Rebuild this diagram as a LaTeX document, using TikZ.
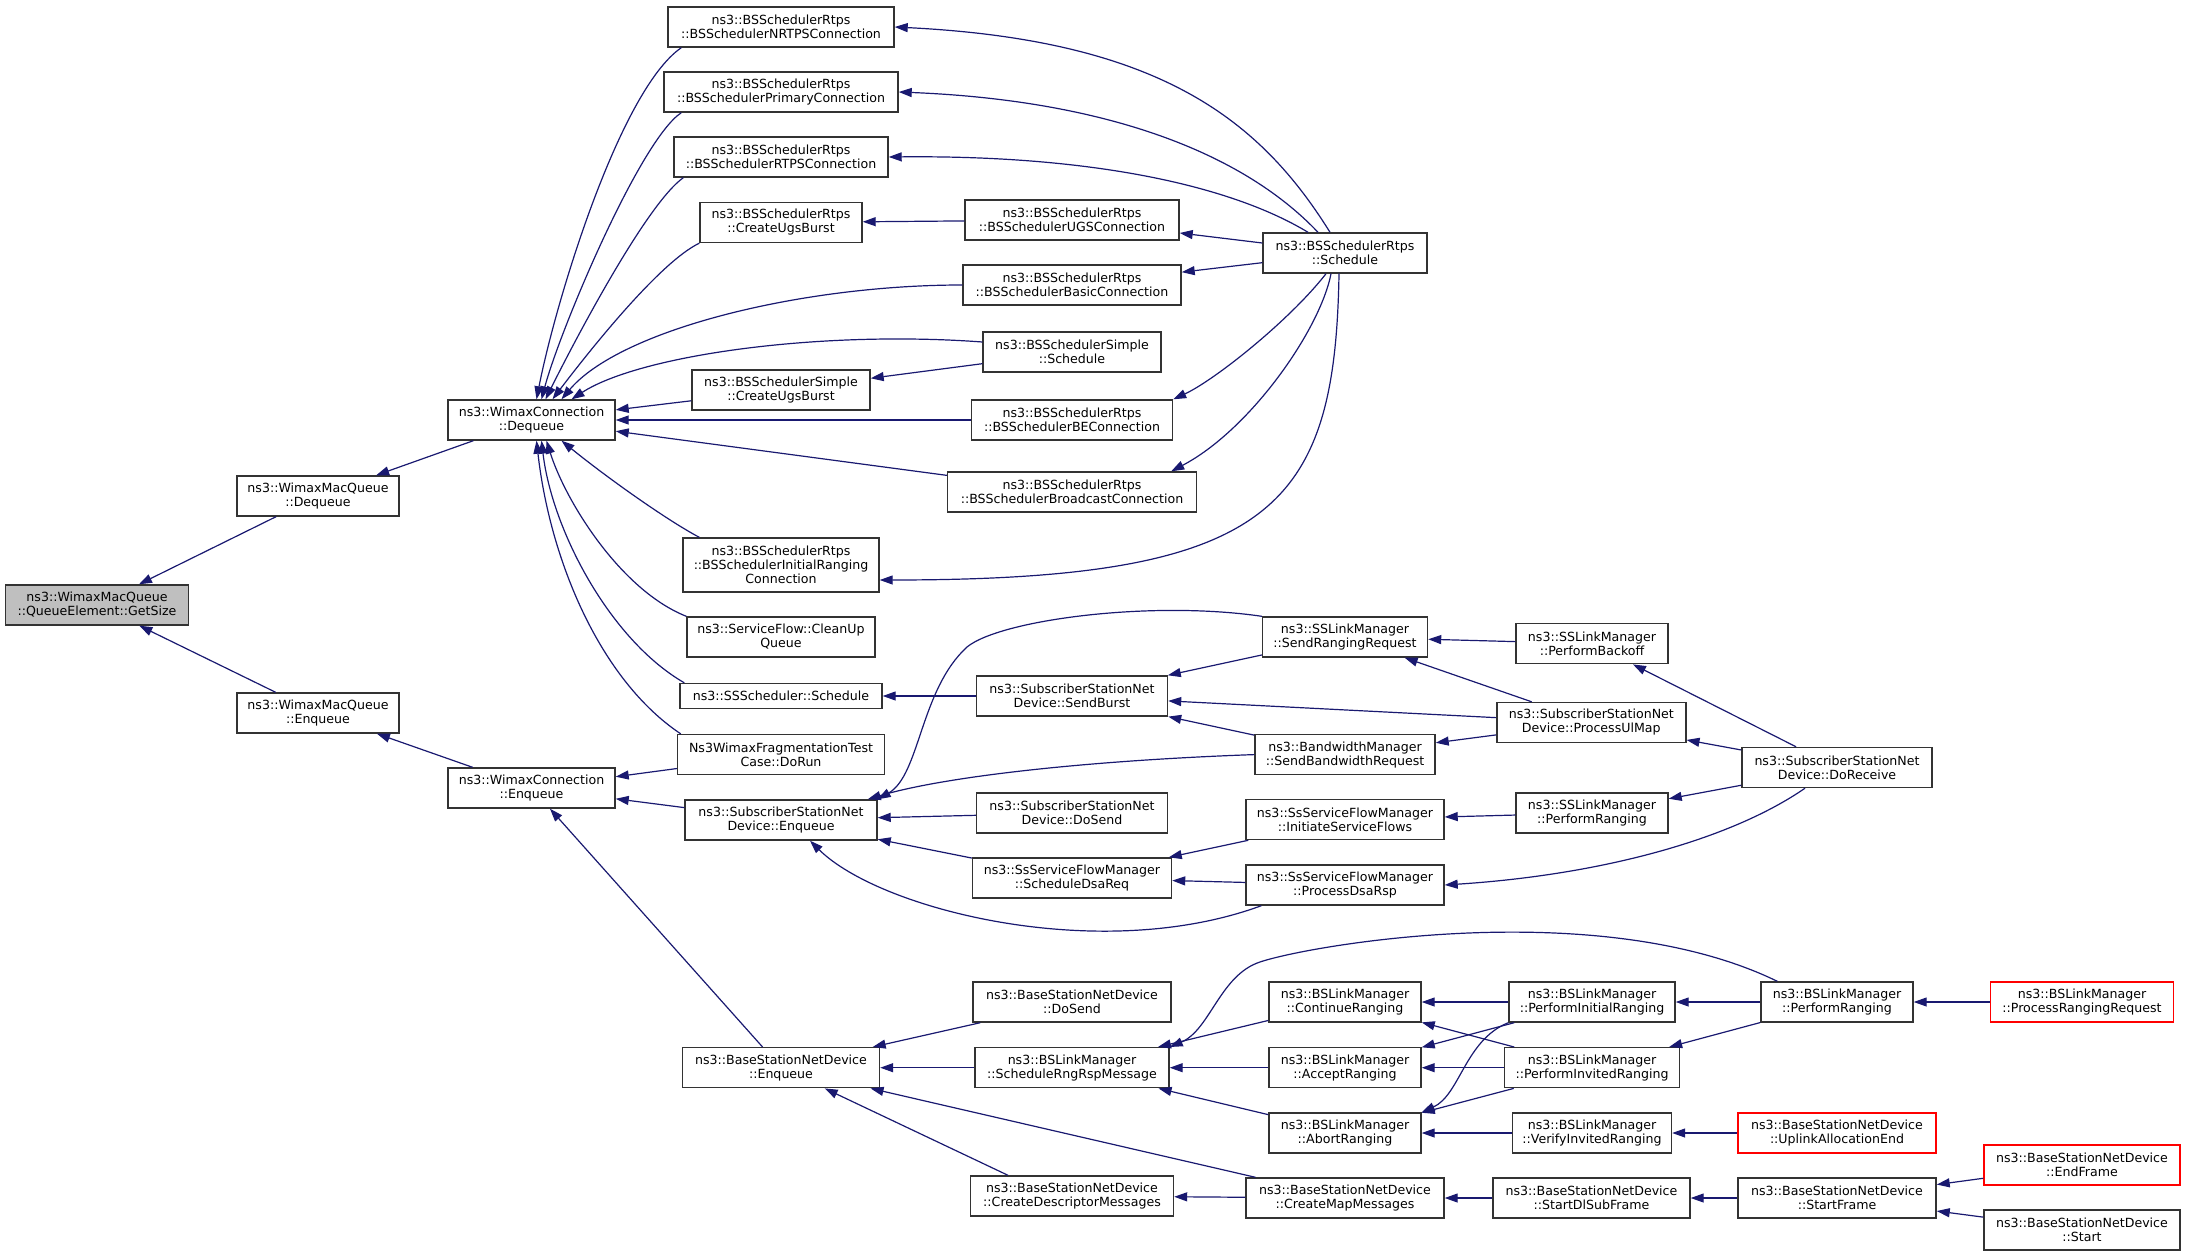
\documentclass[tikz,border=0pt]{standalone}
\usepackage{fontspec}
\usepackage{tikz}
\usetikzlibrary{arrows.meta}
\newfontfamily\dotfont{DejaVu Sans}
\definecolor{edgeblue}{RGB}{25,25,112}

\begin{document}
\begin{tikzpicture}[x=0.5pt, y=-0.5pt,
    fn/.style={draw=black!80, line width=0.7pt, fill=white, inner sep=0pt, align=center,
        minimum height=20pt, font=\dotfont\fontsize{6.3}{7}\selectfont},
    calls/.style={draw=edgeblue, line width=0.6pt, {Triangle[length=6.5pt, width=4.5pt, fill=edgeblue]}-}]
        \useasboundingbox (0,0) rectangle (2187,1256);

        \node[fn, fill=black!25, minimum width=91.5pt] (getsize) at (97,605) {ns3::WimaxMacQueue\\::QueueElement::GetSize};
        \node[fn, minimum width=81pt] (wmqdeq) at (318,496) {ns3::WimaxMacQueue\\::Dequeue};
        \node[fn, minimum width=81pt] (wmqenq) at (318,713) {ns3::WimaxMacQueue\\::Enqueue};
        \node[fn, minimum width=83.5pt] (wcdeq) at (531.5,420) {ns3::WimaxConnection\\::Dequeue};
        \node[fn, minimum width=83.5pt] (wcenq) at (531.5,788) {ns3::WimaxConnection\\::Enqueue};

        \node[fn, minimum width=113pt] (nrtps) at (781,27) {ns3::BSSchedulerRtps\\::BSSchedulerNRTPSConnection};
        \node[fn, minimum width=117pt] (primary) at (781,92) {ns3::BSSchedulerRtps\\::BSSchedulerPrimaryConnection};
        \node[fn, minimum width=107pt] (rtps) at (781,157) {ns3::BSSchedulerRtps\\::BSSchedulerRTPSConnection};
        \node[fn, minimum width=81pt] (rtpsugs) at (781,222.5) {ns3::BSSchedulerRtps\\::CreateUgsBurst};
        \node[fn, minimum width=89pt] (simpleugs) at (781,390) {ns3::BSSchedulerSimple\\::CreateUgsBurst};
        \node[fn, minimum width=98pt, minimum height=27pt] (initrng) at (781,565) {ns3::BSSchedulerRtps\\::BSSchedulerInitialRanging\\Connection};
        \node[fn, minimum width=94pt] (cleanup) at (781,637) {ns3::ServiceFlow::CleanUp\\Queue};
        \node[fn, minimum width=101pt, minimum height=12.5pt] (ssched) at (781,696) {ns3::SSScheduler::Schedule};
        \node[fn, minimum width=103.5pt] (fragtest) at (781,754.6) {Ns3WimaxFragmentationTest\\Case::DoRun};
        \node[fn, minimum width=96pt] (ssenq) at (781,820) {ns3::SubscriberStationNet\\Device::Enqueue};
        \node[fn, minimum width=98.5pt] (bsenq) at (781,1067.7) {ns3::BaseStationNetDevice\\::Enqueue};

        \node[fn, minimum width=107pt] (ugsconn) at (1072,220) {ns3::BSSchedulerRtps\\::BSSchedulerUGSConnection};
        \node[fn, minimum width=109pt] (basicconn) at (1072,285) {ns3::BSSchedulerRtps\\::BSSchedulerBasicConnection};
        \node[fn, minimum width=89pt] (simplesched) at (1072,352) {ns3::BSSchedulerSimple\\::Schedule};
        \node[fn, minimum width=100.5pt] (beconn) at (1072,420) {ns3::BSSchedulerRtps\\::BSSchedulerBEConnection};
        \node[fn, minimum width=124.5pt] (bcastconn) at (1072,492) {ns3::BSSchedulerRtps\\::BSSchedulerBroadcastConnection};
        \node[fn, minimum width=95.5pt] (sendburst) at (1072,696) {ns3::SubscriberStationNet\\Device::SendBurst};
        \node[fn, minimum width=95.5pt] (ssdosend) at (1072,813) {ns3::SubscriberStationNet\\Device::DoSend};
        \node[fn, minimum width=99.5pt] (dsareq) at (1072,878) {ns3::SsServiceFlowManager\\::ScheduleDsaReq};
        \node[fn, minimum width=99pt] (bsdosend) at (1072,1002) {ns3::BaseStationNetDevice\\::DoSend};
        \node[fn, minimum width=97pt] (rngrsp) at (1072,1067.7) {ns3::BSLinkManager\\::ScheduleRngRspMessage};
        \node[fn, minimum width=101.5pt] (descmsg) at (1072,1196) {ns3::BaseStationNetDevice\\::CreateDescriptorMessages};

        \node[fn, minimum width=82pt] (rtpssched) at (1345,253) {ns3::BSSchedulerRtps\\::Schedule};
        \node[fn, minimum width=82.5pt] (sendrng) at (1345,637) {ns3::SSLinkManager\\::SendRangingRequest};
        \node[fn, minimum width=90pt] (bwreq) at (1345,754.6) {ns3::BandwidthManager\\::SendBandwidthRequest};
        \node[fn, minimum width=99pt] (initflows) at (1345,819.6) {ns3::SsServiceFlowManager\\::InitiateServiceFlows};
        \node[fn, minimum width=99pt] (dsarsp) at (1345,885) {ns3::SsServiceFlowManager\\::ProcessDsaRsp};
        \node[fn, minimum width=76pt] (contrng) at (1345,1002) {ns3::BSLinkManager\\::ContinueRanging};
        \node[fn, minimum width=76pt] (acceptrng) at (1345,1067.7) {ns3::BSLinkManager\\::AcceptRanging};
        \node[fn, minimum width=76pt] (abortrng) at (1345,1133) {ns3::BSLinkManager\\::AbortRanging};
        \node[fn, minimum width=99pt] (mapmsg) at (1345,1198) {ns3::BaseStationNetDevice\\::CreateMapMessages};

        \node[fn, minimum width=76pt] (backoff) at (1592,643.7) {ns3::SSLinkManager\\::PerformBackoff};
        \node[fn, minimum width=94.5pt] (ulmap) at (1591.3,722.5) {ns3::SubscriberStationNet\\Device::ProcessUlMap};
        \node[fn, minimum width=76pt] (ssperfrng) at (1592,813) {ns3::SSLinkManager\\::PerformRanging};
        \node[fn, minimum width=83pt] (initialrng) at (1592,1002) {ns3::BSLinkManager\\::PerformInitialRanging};
        \node[fn, minimum width=87.5pt] (invitedrng) at (1592,1067.7) {ns3::BSLinkManager\\::PerformInvitedRanging};
        \node[fn, minimum width=79.5pt] (verifyrng) at (1592,1133) {ns3::BSLinkManager\\::VerifyInvitedRanging};
        \node[fn, minimum width=98.5pt] (dlsub) at (1591.5,1198) {ns3::BaseStationNetDevice\\::StartDlSubFrame};

        \node[fn, minimum width=95pt] (doreceive) at (1837,767.5) {ns3::SubscriberStationNet\\Device::DoReceive};
        \node[fn, minimum width=76pt] (bsperfrng) at (1837,1002) {ns3::BSLinkManager\\::PerformRanging};
        \node[fn, draw=red, minimum width=99pt] (ulallocend) at (1837,1133) {ns3::BaseStationNetDevice\\::UplinkAllocationEnd};
        \node[fn, minimum width=99pt] (startframe) at (1837,1198) {ns3::BaseStationNetDevice\\::StartFrame};

        \node[fn, draw=red, minimum width=91.5pt] (procrngreq) at (2082,1002) {ns3::BSLinkManager\\::ProcessRangingRequest};
        \node[fn, draw=red, minimum width=98pt] (endframe) at (2082,1165) {ns3::BaseStationNetDevice\\::EndFrame};
        \node[fn, minimum width=98pt] (start) at (2082,1230) {ns3::BaseStationNetDevice\\::Start};

        \draw[calls] (getsize) -- (wmqdeq);
        \draw[calls] (getsize) -- (wmqenq);
        \draw[calls] (wmqdeq) -- (wcdeq);
        \draw[calls] (wmqenq) -- (wcenq);

        \draw[calls] ([xshift=2.5pt]wcdeq.north) .. controls (556,300) and (620,90) .. ([xshift=7pt]nrtps.south west);
        \draw[calls] ([xshift=5pt]wcdeq.north) .. controls (560,330) and (640,140) .. ([xshift=9pt]primary.south west);
        \draw[calls] ([xshift=7pt]wcdeq.north) .. controls (570,350) and (645,205) .. ([xshift=5pt]rtps.south west);
        \draw[calls] ([xshift=10.5pt]wcdeq.north) .. controls (590,350) and (660,262) .. (rtpsugs.south west);
        \draw[calls] ([xshift=15pt]wcdeq.north) .. controls (620,330) and (800,285) .. (basicconn.west);
        \draw[calls] ([xshift=20pt]wcdeq.north) .. controls (640,355) and (820,330) .. ([yshift=5pt]simplesched.west);
        \draw[calls] (wcdeq) -- (simpleugs);
        \draw[calls] (wcdeq) -- (beconn);
        \draw[calls] (wcdeq) -- (bcastconn);
        \draw[calls] ([xshift=15pt]wcdeq.south) .. controls (610,480) and (670,522) .. ([xshift=8.5pt]initrng.north west);
        \draw[calls] ([xshift=7.5pt]wcdeq.south) .. controls (565,500) and (620,590) .. (cleanup.north west);
        \draw[calls] ([xshift=5pt]wcdeq.south) .. controls (552,530) and (610,640) .. ([xshift=2.5pt]ssched.north west);
        \draw[calls] ([xshift=2.5pt]wcdeq.south) .. controls (550,560) and (600,680) .. ([xshift=2pt]fragtest.north west);

        \draw[calls] (wcenq) -- (fragtest);
        \draw[calls] (wcenq) -- (ssenq);
        \draw[calls] (wcenq) -- (bsenq);

        \draw[calls] (nrtps.east) .. controls (1160,40) and (1260,120) .. ([xshift=-7.5pt]rtpssched.north);
        \draw[calls] (primary.east) .. controls (1100,100) and (1240,150) .. ([xshift=-13.5pt]rtpssched.north);
        \draw[calls] (rtps.east) .. controls (1090,155) and (1230,185) .. ([xshift=-18.5pt]rtpssched.north);
        \draw[calls] (rtpsugs) -- (ugsconn);
        \draw[calls] (ugsconn) -- (rtpssched);
        \draw[calls] (basicconn) -- (rtpssched);
        \draw[calls] (simpleugs) -- (simplesched);
        \draw[calls] (beconn.north east) .. controls (1215,380) and (1290,320) .. ([xshift=-9.5pt]rtpssched.south);
        \draw[calls] ([xshift=-13pt]bcastconn.north east) .. controls (1250,430) and (1320,330) .. ([xshift=-7pt]rtpssched.south);
        \draw[calls] ([yshift=-7.5pt]initrng.east) .. controls (1272,580) and (1335,509) .. ([xshift=-3pt]rtpssched.south);

        \draw[calls] (ssched) -- (sendburst);
        \draw[calls] (ssenq.north east) .. controls (920,775) and (920,690) .. (967,647)
            .. controls (1000,620) and (1150,600) .. (sendrng.north west);
        \draw[calls] ([xshift=-5pt]ssenq.north east) .. controls (950,775) and (1100,760) .. (bwreq.west);
        \draw[calls] (ssenq) -- (ssdosend);
        \draw[calls] (ssenq) -- (dsareq);
        \draw[calls] ([xshift=14.5pt]ssenq.south) .. controls (880,910) and (1100,965) .. ([xshift=8pt]dsarsp.south west);

        \draw[calls] (sendburst) -- (sendrng);
        \draw[calls] (sendburst) -- (ulmap);
        \draw[calls] (sendburst) -- (bwreq);
        \draw[calls] (sendrng) -- (backoff);
        \draw[calls] (sendrng) -- (ulmap);
        \draw[calls] (bwreq) -- (ulmap);
        \draw[calls] (backoff) -- (doreceive);
        \draw[calls] (ulmap) -- (doreceive);
        \draw[calls] (ssperfrng) -- (doreceive);
        \draw[calls] (dsarsp.east) .. controls (1600,875) and (1730,840) .. ([xshift=-16pt]doreceive.south);
        \draw[calls] (initflows) -- (ssperfrng);
        \draw[calls] (dsareq) -- (initflows);
        \draw[calls] (dsareq) -- (dsarsp);

        \draw[calls] (bsenq) -- (bsdosend);
        \draw[calls] (bsenq) -- (rngrsp);
        \draw[calls] (bsenq) -- (mapmsg);
        \draw[calls] (bsenq) -- ([xshift=-32pt]descmsg.north);
        \draw[calls] (descmsg) -- (mapmsg);

        \draw[calls] (rngrsp.north east) .. controls (1210,1030) and (1220,975) .. (1260,962)
            .. controls (1310,945) and (1600,895) .. ([xshift=8.5pt]bsperfrng.north west);
        \draw[calls] (rngrsp) -- (contrng);
        \draw[calls] (rngrsp) -- (acceptrng);
        \draw[calls] (rngrsp) -- (abortrng);
        \draw[calls] (contrng) -- (initialrng);
        \draw[calls] (acceptrng) -- (initialrng);
        \draw[calls] (abortrng.north east) .. controls (1460,1095) and (1465,1040) .. (initialrng.south west);
        \draw[calls] (contrng) -- (invitedrng);
        \draw[calls] (acceptrng) -- (invitedrng);
        \draw[calls] (abortrng) -- (invitedrng);
        \draw[calls] (initialrng) -- (bsperfrng);
        \draw[calls] (invitedrng) -- (bsperfrng);
        \draw[calls] (bsperfrng) -- (procrngreq);
        \draw[calls] (abortrng) -- (verifyrng);
        \draw[calls] (verifyrng) -- (ulallocend);

        \draw[calls] (mapmsg) -- (dlsub);
        \draw[calls] (dlsub) -- (startframe);
        \draw[calls] (startframe) -- (endframe);
        \draw[calls] (startframe) -- (start);
    \end{tikzpicture}
\end{document}
